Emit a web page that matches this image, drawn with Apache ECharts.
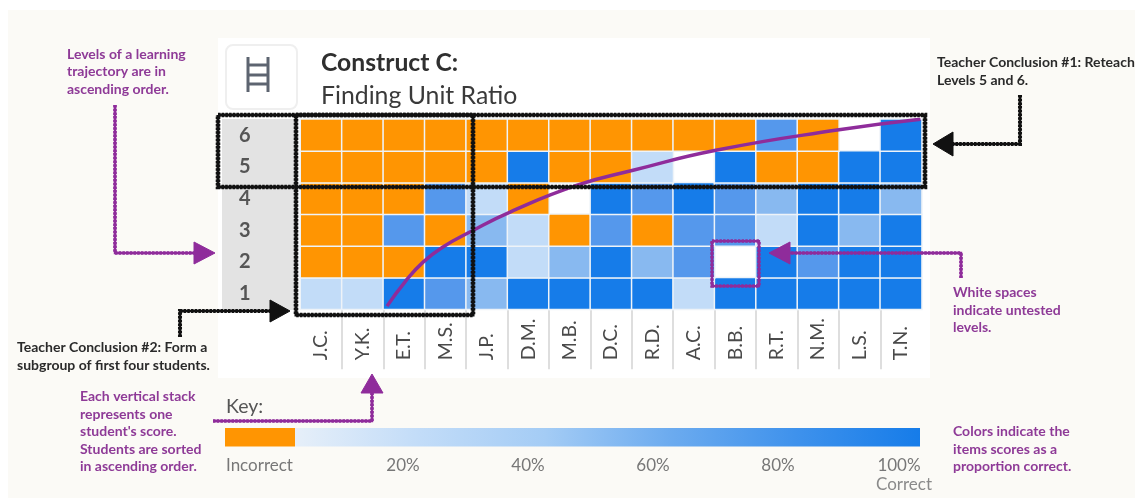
<!DOCTYPE html>
<html><head><meta charset="utf-8">
<style>html,body{margin:0;padding:0;background:#fff}#c{width:1135px;height:498px}</style>
<script src="https://cdn.jsdelivr.net/npm/echarts@6/dist/echarts.min.js"></script>
</head><body><div id="c"></div>
<script>
const students = ['J.C.','Y.K.','E.T.','M.S.','J.P.','D.M.','M.B.','D.C.','R.D.','A.C.','B.B.','R.T.','N.M.','L.S.','T.N.'];
const levels = ['1','2','3','4','5','6'];
// percent correct per student; 0 = incorrect, null = untested
const level1 = [20,20,100,60,40,100,100,100,100,20,100,100,100,100,100];
const level2 = [0,0,0,100,100,20,40,100,40,60,null,100,60,100,100];
const level3 = [0,0,60,0,40,20,0,60,0,60,60,20,100,40,100];
const level4 = [0,0,0,60,20,0,null,100,60,100,60,40,100,100,40];
const level5 = [0,0,0,0,0,100,0,0,20,null,100,0,0,100,100];
const level6 = [0,0,0,0,0,0,0,0,0,0,0,60,0,null,100];
const levelRows = [level1,level2,level3,level4,level5,level6];
const keyTicks = ['20%','40%','60%','80%','100%'];
// progression curve in units of (student column, level row)
const curveX = [2.09,2.52,2.96,3.44,4.09,5.06,6.68,8.03,10.06,12.96,14.97];
const curveY = [0.10,0.86,1.49,1.97,2.44,3.07,3.92,4.39,5.03,5.66,6.00];

const ORANGE='#ff9502', BLUE='#167ce9', PURPLE='#8f2c9b', PTEXT='#8e3a97', FONT='Lato, "Open Sans", sans-serif';
const heat=[];
levelRows.forEach((row,y)=>row.forEach((v,x)=>{ if(v!==null) heat.push([x,y,v]); }));

function txt(x,y,text,o){return {type:'text',z:120,x,y,style:Object.assign({text,fill:'#2a2a2a',font:'bold 14px '+FONT,textVerticalAlign:'middle'},o||{})};}
function lines(x,ys,arr,o){return arr.map((t,i)=>txt(x,ys[i],t,o));}
function rough(points,color,w){return [
  {type:'polyline',z:110,shape:{points},style:{stroke:color,fill:null,lineWidth:w*0.75,lineJoin:'miter'}},
  {type:'polyline',z:110,shape:{points},style:{stroke:color,fill:null,lineWidth:w*1.15,lineDash:[2.5,1.2],lineJoin:'miter'}}
];}
function head(pts,color){return {type:'polygon',z:111,shape:{points:pts},style:{fill:color,stroke:color,lineWidth:1}};}
function box(x0,y0,x1,y1,c,w){return rough([[x0,y0],[x1,y0],[x1,y1],[x0,y1],[x0,y0]],c,w);}
function rect(x,y,w,h,fill,z,extra){return Object.assign({type:'rect',z:z,shape:{x,y,width:w,height:h},style:{fill}},extra||{});}
const pt={fill:PTEXT};
const lad=(x0,y0,x1,y1,w)=>({type:'line',z:5,shape:{x1:x0,y1:y0,x2:x1,y2:y1},style:{stroke:'#5d6470',lineWidth:w}});

const keyXs=[403,528,653,778,899];
const elements=[
  rect(8,10,1127,488,'#fbfaf6',-20),
  rect(218,38,712,340,'#ffffff',-19),
  rect(222,119,74,191,'#e3e3e3',-18),
  {type:'rect',z:-17,shape:{x:226,y:45,width:71,height:64,r:7},style:{fill:'#fff',stroke:'#efefef',lineWidth:2}},
  lad(248,57,248,92,3),lad(268,57,268,92,3),lad(248,65,268,65,3),lad(248,75,268,75,3),lad(248,84,268,84,3),
  txt(321,63,'Construct C:',{fill:'#2f2f2f',font:'bold 24.7px '+FONT}),
  txt(321,96,'Finding Unit Ratio',{fill:'#3a3a3a',font:'24.8px '+FONT}),
  ...lines(67,[54,71,89],['Levels of a learning','trajectory are in','ascending order.'],pt),
  ...lines(937,[62,80],['Teacher Conclusion #1: Reteach','Levels 5 and 6.']),
  ...lines(953,[292,310,327],['White spaces','indicate untested','levels.'],pt),
  ...lines(953,[431,449,466],['Colors indicate the','items scores as a','proportion correct.'],pt),
  ...lines(17,[347,365],['Teacher Conclusion #2: Form a','subgroup of first four students.']),
  ...lines(80,[396,414,431,449,466],['Each vertical stack','represents one',"student's score.",'Students are sorted','in ascending order.'],pt),
  txt(226,407,'Key:',{fill:'#555',font:'19.5px '+FONT}),
  rect(225,428,70,18.5,ORANGE,5),
  rect(295,428,625,18.5,new echarts.graphic.LinearGradient(0,0,1,0,[
    {offset:0,color:'#e6eff9'},{offset:0.2,color:'#c2dcf8'},{offset:0.4,color:'#a4ccf5'},{offset:0.6,color:'#6cabef'},{offset:0.8,color:'#3f92ec'},{offset:1,color:BLUE}]),5),
  txt(226,466,'Incorrect',{fill:'#777',font:'17px '+FONT}),
  ...keyTicks.map((t,i)=>txt(keyXs[i],466,t,{fill:'#777',font:'17px '+FONT,textAlign:'center'})),
  txt(932,485,'Correct',{fill:'#8a8a8a',font:'17px '+FONT,textAlign:'right'}),
  ...box(218,115,925,187,'#111',4),
  ...box(296,115,473,315,'#111',4),
  ...box(712,241,759,286,PURPLE,3),
  ...rough([[115,105],[115,253],[197,253]],PURPLE,3.2), head([[194,242],[194,264],[215,253]],PURPLE),
  ...rough([[180,337],[180,311],[272,311]],'#111',3.5), head([[270,300],[270,322],[290,311]],'#111'),
  ...rough([[1020,95],[1020,144],[951,144]],'#111',3.5), head([[953,132],[953,156],[933,144]],'#111'),
  ...rough([[961,278],[961,253],[788,253]],PURPLE,3.2), head([[790,242],[790,264],[769,253]],PURPLE),
  ...rough([[213,421],[372,421],[372,391]],PURPLE,3.2), head([[361,393],[383,393],[372,374]],PURPLE)
];

const chart=echarts.init(document.getElementById('c'),null,{renderer:'canvas'});
chart.setOption({
  animation:false,
  textStyle:{fontFamily:FONT},
  grid:{left:300.5,top:119.3,width:621.2,height:190,containLabel:false},
  xAxis:[
    {type:'category',data:students,position:'bottom',axisLine:{show:false},axisTick:{show:false},splitLine:{show:false},
     axisLabel:{rotate:90,align:'left',verticalAlign:'middle',margin:51,interval:0,fontSize:19.5,color:'#4a4a4a',fontFamily:FONT}},
    {type:'value',min:0,max:15,interval:1,position:'bottom',axisLine:{show:false},splitLine:{show:false},axisLabel:{show:false},
     axisTick:{show:true,length:60,lineStyle:{color:'#d4d4d4',width:1.5},customValues:[1,2,3,4,5,6,7,8,9,10,11,12,13,14]}}
  ],
  yAxis:[
    {type:'category',data:levels,axisLine:{show:false},axisTick:{show:false},splitLine:{show:false},
     axisLabel:{margin:50,fontSize:20,fontWeight:'bold',color:'#555',fontFamily:FONT}},
    {type:'value',min:0,max:6,interval:1,show:false,splitLine:{show:false}}
  ],
  visualMap:{show:false,type:'piecewise',seriesIndex:0,dimension:2,pieces:[
    {value:0,color:ORANGE},{value:20,color:'#c2dcf8'},{value:40,color:'#88b9f0'},{value:60,color:'#5598ec'},{value:100,color:BLUE}]},
  series:[
    {type:'heatmap',xAxisIndex:0,yAxisIndex:0,data:heat,z:2,itemStyle:{borderColor:'#eef3f8',borderWidth:1.5},emphasis:{disabled:true}},
    {type:'line',xAxisIndex:1,yAxisIndex:1,z:10,smooth:0.5,symbol:'none',silent:true,
     data:curveX.map((x,i)=>[x,curveY[i]]),lineStyle:{color:PURPLE,width:3.5}}
  ],
  graphic:{elements}
});
</script></body></html>
